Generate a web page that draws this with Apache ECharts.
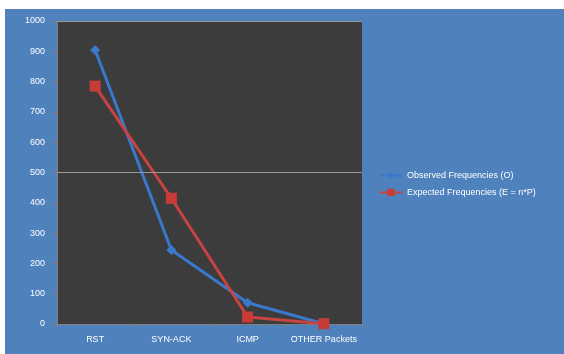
<!DOCTYPE html>
<html><head><meta charset="utf-8">
<script src="https://cdn.jsdelivr.net/npm/echarts@6/dist/echarts.min.js"></script>
<style>html,body{margin:0;padding:0;background:#fff;}#c{width:564px;height:354px;}</style>
</head><body><div id="c"></div>
<script>
const categories = ['RST', 'SYN-ACK', 'ICMP', 'OTHER Packets'];
const observed = [904, 244, 70, 1];
const expected = [785, 415, 23, 1];
const yTicks = [0, 100, 200, 300, 400, 500, 600, 700, 800, 900, 1000];
const gridLines = [500, 1000];

const chart = echarts.init(document.getElementById('c'), null, {renderer: 'canvas'});
const font = 'Liberation Sans, Arial, sans-serif';
chart.setOption({
  animation: false,
  graphic: [{type: 'rect', z: -10, shape: {x: 5, y: 9, width: 559, height: 345}, style: {fill: '#4f81bd'}}],
  grid: {left: 57, right: 202, top: 21, bottom: 30, show: true, backgroundColor: '#3c3c3c', borderWidth: 0},
  xAxis: {
    type: 'category', data: categories, boundaryGap: true,
    axisLine: {lineStyle: {color: '#808080', width: 1}},
    axisTick: {show: true, length: 3, lineStyle: {color: '#808080'}},
    axisLabel: {color: '#ffffff', fontSize: 9, fontFamily: font, interval: 0, margin: 11}
  },
  yAxis: {
    type: 'value', min: yTicks[0], max: yTicks[yTicks.length - 1], interval: 100,
    axisLine: {show: true, lineStyle: {color: '#808080', width: 1}},
    axisTick: {show: true, length: 5, lineStyle: {color: '#808080'}},
    axisLabel: {color: '#ffffff', fontSize: 9, fontFamily: font, margin: 12, formatter: v => String(v)},
    splitLine: {show: false}
  },
  legend: {
    orient: 'vertical', left: 374, top: 166, itemGap: 8,
    itemWidth: 22, itemHeight: 9,
    textStyle: {color: '#ffffff', fontSize: 9, fontFamily: font},
    data: ['Observed Frequencies (O)', 'Expected Frequencies (E = n*P)']
  },
  series: [
    {
      name: 'Observed Frequencies (O)', type: 'line', data: observed,
      symbol: 'diamond', symbolSize: 10,
      lineStyle: {color: '#3a78cc', width: 3},
      itemStyle: {color: '#3a78cc'}, z: 2,
      markLine: {silent: true, symbol: 'none', label: {show: false},
        lineStyle: {color: '#9a9a9a', width: 1, type: 'solid'},
        data: gridLines.map(v => ({yAxis: v}))}
    },
    {
      name: 'Expected Frequencies (E = n*P)', type: 'line', data: expected,
      symbol: 'rect', symbolSize: 11,
      lineStyle: {color: '#c84440', width: 3},
      itemStyle: {color: '#c83c38'}, z: 3
    }
  ]
});
</script></body></html>
